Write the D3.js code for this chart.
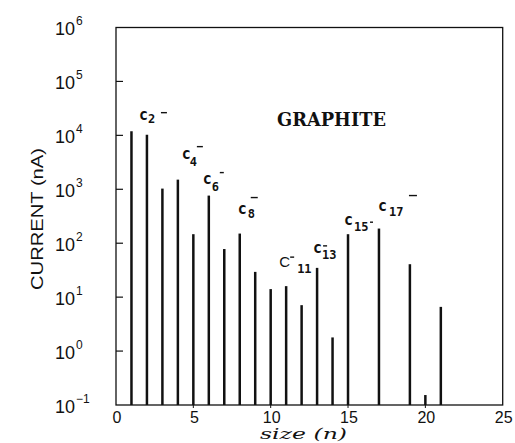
<!DOCTYPE html>
<html>
<head>
<meta charset="utf-8">
<script src="https://cdn.jsdelivr.net/npm/d3@7"></script>
<style>
  html, body { margin: 0; padding: 0; background: #fff; }
  svg { display: block; }
</style>
</head>
<body>
<svg id="chart" width="515" height="443"></svg>
<script>
// ---- data ----
const sizes  = [1, 2, 3, 4, 5, 6, 7, 8, 9, 10, 11, 12, 13, 14, 15, 17, 19, 20, 21];
const currents = [11900, 10300, 1030, 1510, 147, 764, 78, 151, 29.4, 14.1, 16, 7.1, 34.9, 1.79, 147, 187, 40.8, 0.153, 6.6];
const yTickExps = [-1, 0, 1, 2, 3, 4, 5, 6];
const xTickValues = [0, 5, 10, 15, 20, 25];
const labelBars = [2, 4, 6, 8, 11, 13, 15, 17];
const labelSubs = ["2", "4", "6", "8", "11", "13", "15", "17"];
const xTitle = "size (n)";
const yTitle = "CURRENT (nA)";
const boxTitle = "GRAPHITE";

// ---- layout ----
const pL = 116, pR = 502.7, pT = 27.5, pB = 405;
const svg = d3.select("#chart");

const x = d3.scaleLinear().domain([0, 25]).range([pL, pR]);
const y = d3.scaleLog().domain([0.1, 1e6]).range([pB, pT]);

// frame
svg.append("rect")
  .attr("x", pL).attr("y", pT)
  .attr("width", pR - pL).attr("height", pB - pT)
  .attr("fill", "none").attr("stroke", "#111").attr("stroke-width", 1.3);

// y ticks (inward)
svg.append("g").selectAll("line").data(yTickExps.slice(1, -1)).join("line")
  .attr("x1", pL).attr("x2", pL + 7)
  .attr("y1", d => y(Math.pow(10, d))).attr("y2", d => y(Math.pow(10, d)))
  .attr("stroke", "#111").attr("stroke-width", 1.2);

// y tick labels 10^n
const yl = svg.append("g").selectAll("text").data(yTickExps).join("text")
  .attr("x", 55)
  .attr("y", d => y(Math.pow(10, d)) + 7.5)
  .attr("font-family", "Liberation Sans, Arial, sans-serif")
  .attr("font-size", 18)
  .attr("fill", "#111");
yl.append("tspan").text("10");
yl.append("tspan")
  .attr("font-size", 12)
  .attr("dx", 1)
  .attr("dy", -10)
  .text(d => d < 0 ? "\u2212" + Math.abs(d) : String(d));

// x ticks (small, outward)
svg.append("g").selectAll("line").data(xTickValues.slice(1, -1)).join("line")
  .attr("x1", d => x(d)).attr("x2", d => x(d))
  .attr("y1", pB).attr("y2", pB + 3)
  .attr("stroke", "#111").attr("stroke-width", 1);

// x tick labels
svg.append("g").selectAll("text").data(xTickValues).join("text")
  .attr("x", d => x(d) + 1)
  .attr("y", 422.5)
  .attr("text-anchor", "middle")
  .attr("font-family", "Liberation Sans, Arial, sans-serif")
  .attr("font-size", 16)
  .attr("fill", "#111")
  .text(d => d);

// bars
svg.append("g").selectAll("line").data(sizes.map((s, i) => ({ s, v: currents[i] }))).join("line")
  .attr("x1", d => x(d.s)).attr("x2", d => x(d.s))
  .attr("y1", pB).attr("y2", d => y(d.v))
  .attr("stroke", "#111").attr("stroke-width", 2.5);

// axis titles
svg.append("text")
  .attr("x", 260).attr("y", 439)
  .attr("font-family", "DejaVu Serif, serif")
  .attr("font-style", "italic")
  .attr("font-size", 14.5)
  .attr("textLength", 87).attr("lengthAdjust", "spacingAndGlyphs")
  .attr("fill", "#111")
  .text(xTitle);

svg.append("text")
  .attr("transform", "translate(43,219) rotate(-90)")
  .attr("text-anchor", "middle")
  .attr("font-family", "Liberation Sans, Arial, sans-serif")
  .attr("font-size", 17)
  .attr("textLength", 142).attr("lengthAdjust", "spacingAndGlyphs")
  .attr("fill", "#111")
  .text(yTitle);

// GRAPHITE
svg.append("text")
  .attr("x", 277).attr("y", 126)
  .attr("font-family", "DejaVu Serif, serif")
  .attr("font-weight", "bold")
  .attr("font-size", 18)
  .attr("textLength", 109).attr("lengthAdjust", "spacingAndGlyphs")
  .attr("fill", "#111")
  .text(boxTitle);

// cluster labels, placed relative to the bar they annotate
const labelLayout = [
  { c: [-8, -15], sub: [9, 3],  minus: [22, -7, 6] },
  { c: [4, -21],  sub: [8, 7],  minus: [15, -12, 6] },
  { c: [-6, -12], sub: [9, 7],  minus: [17, -11, 4] },
  { c: [-2, -20], sub: [10, 4], minus: [13, -16, 7] },
  { c: [-7, -19], sub: [18, 6], minus: [11, -10, 4], upper: true },
  { c: [-4, -15], sub: [9, 6],  minus: [10, -7, 4] },
  { c: [-4, -9],  sub: [10, 6], minus: [26, -3, 3] },
  { c: [-1, -18], sub: [11, 5], minus: [31, -15, 8] }
];

labelBars.forEach((n, i) => {
  const v = currents[sizes.indexOf(n)];
  const L = labelLayout[i];
  const cx = x(n) + L.c[0], cy = y(v) + L.c[1];
  const g = svg.append("g");
  g.append("text")
    .attr("x", cx).attr("y", cy)
    .attr("font-family", L.upper ? "Liberation Sans, Arial, sans-serif" : "DejaVu Sans Mono, monospace")
    .attr("font-weight", L.upper ? "normal" : "bold")
    .attr("font-size", 15)
    .attr("fill", "#111")
    .text(L.upper ? "C" : "c");
  g.append("text")
    .attr("x", cx + L.sub[0]).attr("y", cy + L.sub[1])
    .attr("font-family", "DejaVu Sans Mono, monospace")
    .attr("font-weight", "bold")
    .attr("font-size", 12)
    .attr("fill", "#111")
    .text(labelSubs[i]);
  g.append("line")
    .attr("x1", cx + L.minus[0]).attr("x2", cx + L.minus[0] + L.minus[2])
    .attr("y1", cy + L.minus[1]).attr("y2", cy + L.minus[1])
    .attr("stroke", "#111").attr("stroke-width", 1.4);
});
</script>
</body>
</html>
